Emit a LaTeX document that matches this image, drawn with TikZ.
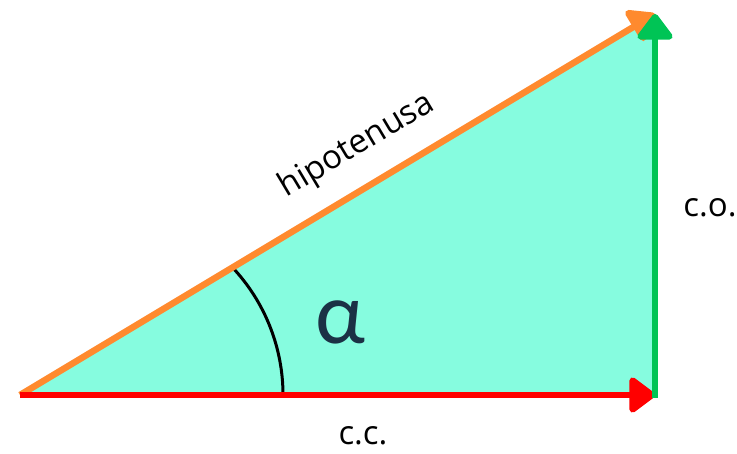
\documentclass[tikz,border=0pt]{standalone}
\usepackage{fontspec}
\setmainfont{Open Sans}
\newfontfamily\alphafont{Carlito}
\usetikzlibrary{arrows.meta}
\definecolor{fillc}{RGB}{134,252,223}
\definecolor{orangec}{RGB}{255,138,46}
\definecolor{greenc}{RGB}{0,196,85}
\definecolor{redc}{RGB}{255,0,0}
\definecolor{alphac}{RGB}{27,49,69}
\tikzset{
  vec/.style={line width=6.5pt, -{Triangle[length=28pt,width=40pt,round]}},
  lbl/.style={inner sep=0pt, font=\fontsize{33}{38}\selectfont}
}
\begin{document}
\begin{tikzpicture}[x=1pt,y=-1pt]
\useasboundingbox (0,0) rectangle (737,454);
\coordinate (A) at (20,395);
\coordinate (B) at (655,395);
\coordinate (C) at (655,14);
\coordinate (Bg) at (655,398);
\fill[fillc] (A) -- (B) -- (C) -- cycle;
\draw[line width=3pt] (283,395) arc[start angle=0, end angle=-43, radius=186.3];
\draw[vec, orangec] (A) -- (C);
\draw[vec, redc] (A) -- (B);
\draw[vec, greenc] (Bg) -- (C);
\node[lbl, rotate=30.9] (hip) at (357,146) {hipotenusa};
\node[lbl] (co) at (710,208) {c.o.};
\node[lbl] (cc) at (363,436) {c.c.};
\node[inner sep=0pt, text=alphac, font=\alphafont\fontsize{88}{96}\selectfont] (alpha) at (340,322) {α};
\end{tikzpicture}
\end{document}
